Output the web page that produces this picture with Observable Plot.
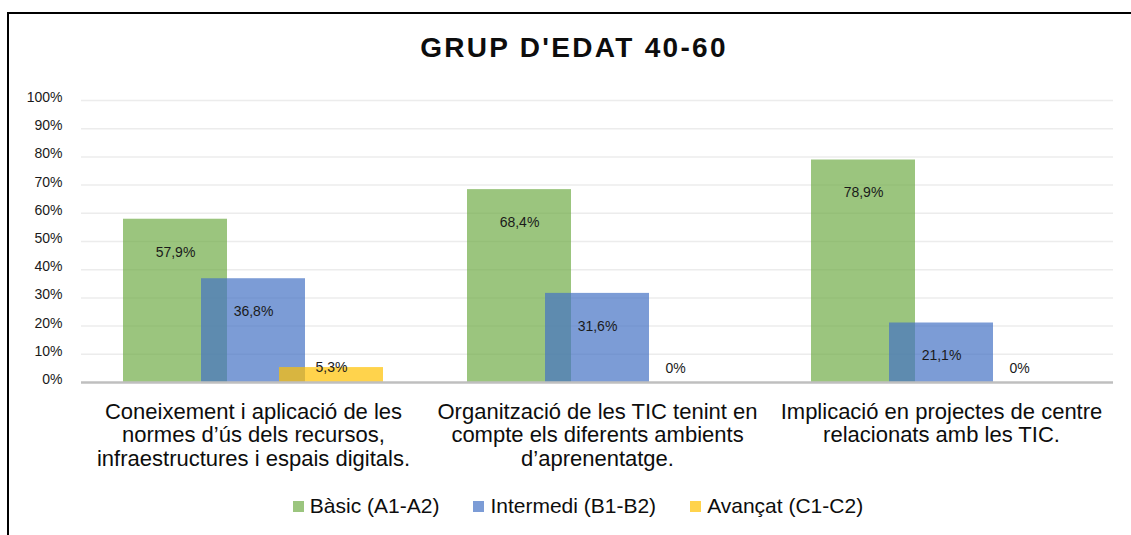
<!DOCTYPE html>
<html>
<head>
<meta charset="utf-8">
<script src="https://cdn.jsdelivr.net/npm/d3@7"></script>
<script src="https://cdn.jsdelivr.net/npm/@observablehq/plot@0.6"></script>
<style>
  html, body { margin: 0; padding: 0; background: #fff; overflow: hidden; width: 1131px; height: 535px; }
  body { font-family: "Liberation Sans", Arial, sans-serif; }
  #frame { position: absolute; left: 7px; top: 12px; width: 1200px; height: 600px; border-top: 2px solid #000; border-left: 2px solid #000; }
  #title { width: 1130px; height: 46px; padding-top: 20px; line-height: 28px; font-size: 28px; font-weight: bold; letter-spacing: 2.3px; text-align: center; color: #0d0d0d; }
  #chart { width: 1122px; height: 390px; }
  #legend { width: 1130px; padding-left: 8px; box-sizing: border-box; padding-top: 24px; display: flex; justify-content: center; align-items: center; font-size: 21px; line-height: 24px; color: #0d0d0d; }
  .item { display: flex; align-items: center; margin: 0 17px; }
  .sw { width: 11px; height: 11px; margin-right: 6px; }
</style>
</head>
<body>
<div id="frame">
  <div id="title"></div>
  <div id="chart"></div>
  <div id="legend"></div>
</div>
<script>
const title = "GRUP D'EDAT 40-60";
const categories = [
  "Coneixement i aplicació de les normes d’ús dels recursos, infraestructures i espais digitals.",
  "Organització de les TIC tenint en compte els diferents ambients d’aprenentatge.",
  "Implicació en projectes de centre relacionats amb les TIC."
];
const tickLabels = [
  "Coneixement i aplicació de les\nnormes d’ús dels recursos,\ninfraestructures i espais digitals.",
  "Organització de les TIC tenint en\ncompte els diferents ambients\nd’aprenentatge.",
  "Implicació en projectes de centre\nrelacionats amb les TIC."
];
const series = ["Bàsic (A1-A2)", "Intermedi (B1-B2)", "Avançat (C1-C2)"];
const basic = [57.9, 68.4, 78.9];
const intermedi = [36.8, 31.6, 21.1];
const avancat = [5.3, 0, 0];
const yTicks = [0, 10, 20, 30, 40, 50, 60, 70, 80, 90, 100];
const colors = ["#70AD47", "#4472C4", "#FFC000"];

const values = [basic, intermedi, avancat];
const offsets = [-78, 0, 78];
const fmt = v => (v === 0 ? "0" : v.toFixed(1).replace(".", ",")) + "%";

document.getElementById("title").textContent = title;

const marks = [
  Plot.ruleY(yTicks.filter(t => t > 0), {stroke: "#ececec", strokeWidth: 1.5})
];
values.forEach((vals, j) => {
  const rows = categories.map((c, i) => ({cat: c, v: vals[i], s: series[j]}));
  marks.push(Plot.barY(rows, {
    x: "cat", y: "v", fill: colors[j], fillOpacity: 0.7,
    dx: offsets[j], insetLeft: 120, insetRight: 120
  }));
});
marks.push(Plot.ruleY([0], {stroke: "#bfbfbf", strokeWidth: 2.5}));
values.forEach((vals, j) => {
  const rows = categories.map((c, i) => ({cat: c, v: vals[i]}));
  marks.push(Plot.text(rows, {
    x: "cat",
    y: d => d.v > 15 ? d.v - 11.7 : Math.max(d.v, 5),
    text: d => fmt(d.v),
    dx: offsets[j], fontSize: 14, fill: "#1a1a1a"
  }));
});
marks.push(Plot.axisY({
  ticks: yTicks, tickSize: 0, tickPadding: 19, tickFormat: d => d + "%",
  fontSize: 14, dy: -3, fill: "#1a1a1a", label: null
}));
marks.push(Plot.axisX({
  tickSize: 0, tickPadding: 20, fontSize: 22, lineHeight: 1.06,
  tickFormat: c => tickLabels[categories.indexOf(c)], fill: "#0d0d0d", label: null
}));

const chart = Plot.plot({
  width: 1122,
  height: 390,
  marginTop: 20,
  marginBottom: 88,
  marginLeft: 72,
  marginRight: 18,
  style: {fontFamily: "'Liberation Sans', Arial, sans-serif", background: "transparent", overflow: "visible"},
  x: {type: "band", domain: categories, padding: 0},
  y: {domain: [0, 100]},
  marks
});
document.getElementById("chart").appendChild(chart);

const legend = document.getElementById("legend");
series.forEach((s, j) => {
  const item = document.createElement("div");
  item.className = "item";
  const sw = document.createElement("div");
  sw.className = "sw";
  sw.style.background = colors[j];
  sw.style.opacity = 0.7;
  const t = document.createElement("span");
  t.textContent = s;
  item.appendChild(sw);
  item.appendChild(t);
  legend.appendChild(item);
});
</script>
</body>
</html>
